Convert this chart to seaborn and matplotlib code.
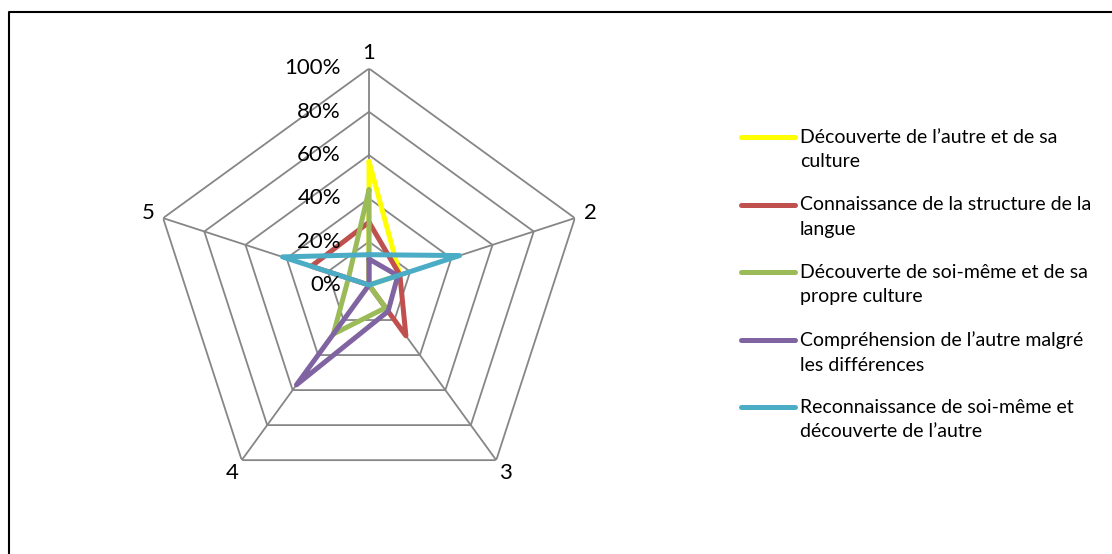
import numpy as np
import pandas as pd
import matplotlib
matplotlib.use("Agg")
import matplotlib.pyplot as plt
import matplotlib.transforms as mtransforms
import seaborn as sns

# Data (fractions of 100%)
axes_labels = ["1", "2", "3", "4", "5"]
series = [
    "Découverte de l’autre et de sa\nculture",
    "Connaissance de la structure de la\nlangue",
    "Découverte de soi-même et de sa\npropre culture",
    "Compréhension de l’autre malgré\nles différences",
    "Reconnaissance de soi-même et\ndécouverte de l’autre",
]
decouverte_autre = [0.57, 0.15, 0.00, 0.00, 0.00]
structure_langue = [0.29, 0.15, 0.29, 0.00, 0.28]
decouverte_soi = [0.44, 0.00, 0.13, 0.28, 0.10]
comprehension = [0.12, 0.14, 0.15, 0.57, 0.00]
reconnaissance = [0.14, 0.44, 0.00, 0.00, 0.42]
values = [decouverte_autre, structure_langue, decouverte_soi, comprehension, reconnaissance]
colors = ["#FFFF00", "#C0504D", "#9BBB59", "#8064A2", "#4BACC6"]
rings = [0.2, 0.4, 0.6, 0.8, 1.0]
ring_labels = ["0%", "20%", "40%", "60%", "80%", "100%"]

sns.set_style("white")
plt.rcParams["font.family"] = ["Lato", "DejaVu Sans"]
plt.rcParams["text.color"] = "black"
plt.rcParams["xtick.color"] = "black"

angles = np.linspace(0, 2 * np.pi, len(axes_labels), endpoint=False)

rows = []
for name, vals in zip(series, values):
    for i, v in enumerate(vals + [vals[0]]):
        rows.append({"series": name, "theta": np.append(angles, 2 * np.pi)[i], "value": v, "order": i})
df = pd.DataFrame(rows)

W, H = 1112, 554
fig = plt.figure(figsize=(W / 100, H / 100), dpi=100)

# polar area: center (369, 285) px, radius 216.5 px
cx, cy, R = 369, 285, 216.5
ax = fig.add_axes([(cx - R) / W, (H - cy - R) / H, 2 * R / W, 2 * R / H], projection="polar")
ax.set_theta_offset(np.pi / 2)
ax.set_theta_direction(-1)
ax.set_ylim(0, 1)
ax.spines["polar"].set_visible(False)
ax.yaxis.grid(False)
ax.xaxis.grid(True, color="#868686", linewidth=1.3)
ax.set_yticks([])
ax.set_xticks(angles)
ax.set_xticklabels(axes_labels, fontsize=16, color="black")
ax.tick_params(axis="x", pad=1)

# pentagon rings
for r in rings:
    ax.plot(np.append(angles, angles[0]), [r] * (len(angles) + 1), color="#868686", linewidth=1.3, zorder=1)

sns.lineplot(data=df, x="theta", y="value", hue="series", hue_order=series,
             palette=dict(zip(series, colors)), sort=False, estimator=None,
             linewidth=3.6, legend=False, ax=ax, zorder=3)
ax.set_xlabel("")
ax.set_ylabel("")

# radial percentage labels left of axis 1
off = mtransforms.offset_copy(ax.transData, fig=fig, x=-28, y=0, units="dots")
for r, lab in zip([0.0] + rings, ring_labels):
    ax.text(0, r, lab, transform=off, ha="right", va="center", fontsize=16, zorder=5)

# overlay in pixel coordinates for the legend and frame
ov = fig.add_axes([0, 0, 1, 1], facecolor="none")
ov.set_xlim(0, W)
ov.set_ylim(H, 0)
ov.axis("off")
ov.plot([9, 9, W + 5], [H + 5, 12, 12], color="black", linewidth=1.5, clip_on=False)

y0, step = 137, 67.5
for i, (name, c) in enumerate(zip(series, colors)):
    y = y0 + i * step
    ov.plot([741, 795], [y, y], color=c, linewidth=3.6, solid_capstyle="round")
    ov.text(800, y - 8, name, ha="left", va="top", fontsize=14, linespacing=1.52)

fig.savefig("out.png", dpi=100)
